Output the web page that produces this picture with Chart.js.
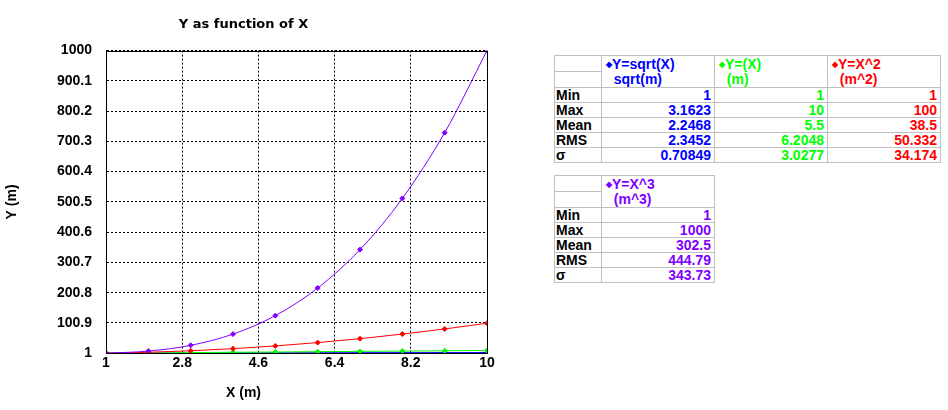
<!DOCTYPE html>
<html>
<head>
<meta charset="utf-8">
<script src="https://cdn.jsdelivr.net/npm/chart.js@4/dist/chart.umd.min.js"></script>
<style>
 body{margin:0;background:#fff;width:948px;height:410px;overflow:hidden;position:relative}
 #box{position:absolute;left:0;top:0;width:500px;height:410px}
 table.stats{position:absolute;border-collapse:collapse;table-layout:fixed;font:bold 14px "Liberation Sans",Arial,sans-serif}
 table.stats td{border:1px solid #c0c0c0;padding:0;height:14px;line-height:14px;white-space:pre;overflow:hidden}
 table.stats td.lbl{padding-left:1px;color:#000}
 table.stats td.val{text-align:right;padding-right:3px}
 table.stats td.head{vertical-align:top;padding-left:4px;padding-top:1px;line-height:15px}
 .dot{font-size:8px;vertical-align:2px}
</style>
</head>
<body>
<div id="box"><canvas id="chart" width="500" height="410"></canvas></div>
<script>
// x values and the four curves
const xs = [1,2,3,4,5,6,7,8,9,10];
const ySqrt = [1,1.4142,1.7321,2,2.2361,2.4495,2.6458,2.8284,3,3.1623];
const yLin = [1,2,3,4,5,6,7,8,9,10];
const ySq = [1,4,9,16,25,36,49,64,81,100];
const yCube = [1,8,27,64,125,216,343,512,729,1000];

// tick labels
const xTicks = [1,2.8,4.6,6.4,8.2,10];
const yTicks = [1,100.9,200.8,300.7,400.6,500.5,600.4,700.3,800.2,900.1,1000];

// statistics tables
const statNames = ["Min","Max","Mean","RMS","σ"];
const sqrtStats = ["1","3.1623","2.2468","2.3452","0.70849"];
const linStats = ["1","10","5.5","6.2048","3.0277"];
const sqStats = ["1","100","38.5","50.332","34.174"];
const cubeStats = ["1","1000","302.5","444.79","343.73"];

const BLUE="#0000ff", GREEN="#00ff00", RED="#ff0000", PURPLE="#8000ff";

function pts(ys){ return xs.map((x,i)=>({x:x,y:ys[i]})); }
function series(label, ys, col, ord){
  return {label:label, data:pts(ys), borderColor:col, backgroundColor:col,
    borderWidth:1, pointStyle:"rectRot", pointRadius:2.5, pointBorderWidth:1,
    cubicInterpolationMode:"monotone", order:ord};
}

const frame = {
  id:"frame",
  afterDraw(c){
    const a=c.chartArea, ctx=c.ctx;
    ctx.save();
    ctx.strokeStyle="#000"; ctx.lineWidth=1; ctx.setLineDash([]);
    ctx.strokeRect(Math.round(a.left)+0.5, Math.round(a.top)+0.5,
      Math.round(a.right)-Math.round(a.left), Math.round(a.bottom)-Math.round(a.top));
    ctx.restore();
  }
};

const tickFont = {family:"'Liberation Sans', Arial, sans-serif", size:14, weight:"bold"};

new Chart(document.getElementById("chart"),{
  type:"line",
  data:{datasets:[
    series("Y=sqrt(X)", ySqrt, BLUE, 3),
    series("Y=(X)", yLin, GREEN, 2),
    series("Y=X^2", ySq, RED, 1),
    series("Y=X^3", yCube, PURPLE, 0)
  ]},
  options:{
    responsive:false, animation:false, devicePixelRatio:1,
    layout:{padding:{left:0,right:13,top:0,bottom:0}},
    plugins:{
      legend:{display:false}, tooltip:{enabled:false},
      title:{display:true, text:"Y as function of X", color:"#000",
        font:{family:"'DejaVu Sans', sans-serif", size:13, weight:"bold", lineHeight:1.2},
        padding:{top:17,bottom:18}},
      subtitle:{display:true, position:"bottom", text:"X (m)", color:"#000",
        font:{family:"'Liberation Sans', Arial, sans-serif", size:14, weight:"bold", lineHeight:1.2},
        padding:{top:0,bottom:8}}
    },
    scales:{
      x:{type:"linear", min:1, max:10,
        afterBuildTicks:s=>{ s.ticks = xTicks.map(v=>({value:v})); },
        afterFit:s=>{ s.height = 32; },
        ticks:{color:"#000", font:tickFont, padding:2, maxRotation:0, autoSkip:false, callback:v=>String(v)},
        grid:{color:"#000", lineWidth:1, drawTicks:false},
        border:{color:"#000", width:1, dash:[2,2]}
      },
      y:{type:"linear", min:1, max:1000,
        afterBuildTicks:s=>{ s.ticks = yTicks.map(v=>({value:v})); },
        afterFit:s=>{ s.width = 106; },
        ticks:{color:"#000", font:tickFont, padding:14, autoSkip:false, callback:v=>String(v)},
        grid:{color:"#000", lineWidth:1, drawTicks:false},
        border:{color:"#000", width:1, dash:[2,2]},
        title:{display:true, text:"Y (m)", color:"#000", font:tickFont, padding:{top:4,bottom:0}}
      }
    }
  },
  plugins:[frame]
});

// build the stat tables
function makeTable(left, top, cols){
  const t=document.createElement("table");
  t.className="stats";
  t.style.left=left+"px"; t.style.top=top+"px";
  t.style.width=(47+cols.length*113)+"px";
  const cg=document.createElement("colgroup");
  let h='<col style="width:47px">';
  cols.forEach(()=>{ h+='<col style="width:113px">'; });
  cg.innerHTML=h; t.appendChild(cg);
  let r1='<tr><td class="lbl"></td>';
  cols.forEach(c=>{
    r1+='<td class="head" rowspan="2" style="color:'+c.color+'"><span class="dot">◆</span>'+c.name+'\n  '+c.unit+'</td>';
  });
  r1+='</tr><tr><td class="lbl"></td></tr>';
  let rows=r1;
  statNames.forEach((n,i)=>{
    rows+='<tr><td class="lbl">'+n+'</td>';
    cols.forEach(c=>{ rows+='<td class="val" style="color:'+c.color+'">'+c.vals[i]+'</td>'; });
    rows+='</tr>';
  });
  const tb=document.createElement("tbody");
  tb.innerHTML=rows; t.appendChild(tb);
  document.body.appendChild(t);
}
makeTable(554, 55, [
  {name:"Y=sqrt(X)", unit:"sqrt(m)", color:BLUE, vals:sqrtStats},
  {name:"Y=(X)", unit:"(m)", color:GREEN, vals:linStats},
  {name:"Y=X^2", unit:"(m^2)", color:RED, vals:sqStats}
]);
makeTable(554, 175, [
  {name:"Y=X^3", unit:"(m^3)", color:PURPLE, vals:cubeStats}
]);
</script>
</body>
</html>
